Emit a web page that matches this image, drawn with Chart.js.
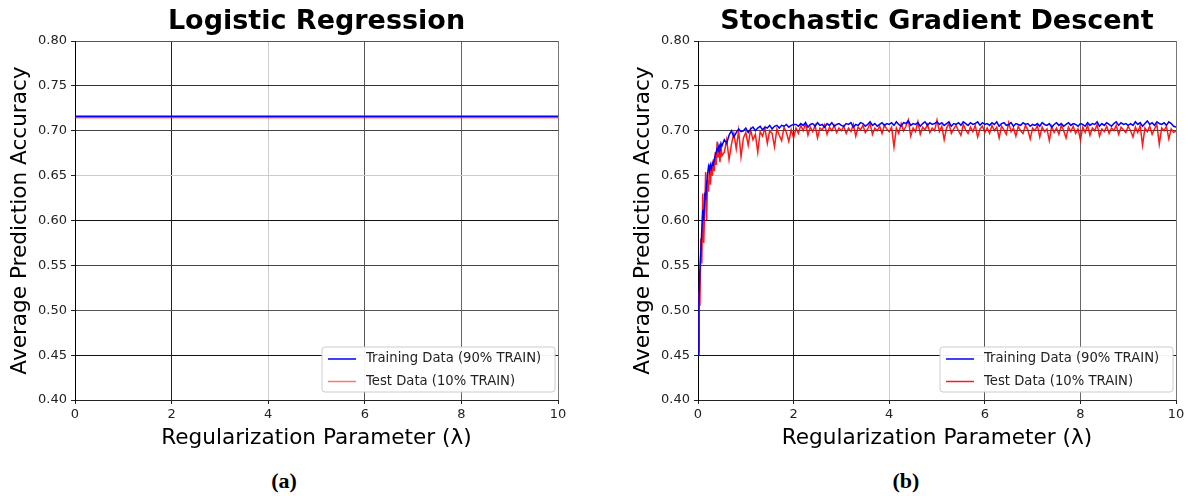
<!DOCTYPE html>
<html>
<head>
<meta charset="utf-8">
<script src="https://cdn.jsdelivr.net/npm/chart.js@4.4.1/dist/chart.umd.min.js"></script>
<style>
  html, body { margin: 0; padding: 0; background: #fff; }
  body { width: 1196px; height: 496px; position: relative; overflow: hidden; }
  .wrap { position: absolute; top: 0; width: 598px; height: 460px; }
  .cap { position: absolute; top: 468px; width: 80px; text-align: center;
         font-family: "Liberation Serif", "Times New Roman", serif; font-weight: bold; font-size: 22px; color: #000; }
</style>
</head>
<body>
<div class="wrap" style="left:0"><canvas id="lr" width="598" height="460"></canvas></div>
<div class="wrap" style="left:598px"><canvas id="sgd" width="598" height="460"></canvas></div>
<div class="cap" style="left:244px">(a)</div>
<div class="cap" style="left:866px">(b)</div>
<script>
// ---------------- data ----------------
const titles = ['Logistic Regression', 'Stochastic Gradient Descent'];
const xAxisTitle = 'Regularization Parameter (\u03bb)';
const yAxisTitle = 'Average Prediction Accuracy';
const seriesLabels = ['Training Data (90% TRAIN)', 'Test Data (10% TRAIN)'];
const xTickValues = [0, 2, 4, 6, 8, 10];
const yTickValues = [0.40, 0.45, 0.50, 0.55, 0.60, 0.65, 0.70, 0.75, 0.80];

// Logistic regression: flat accuracy across lambda
const lrLambda = [0, 2, 4, 6, 8, 10];
const lrTrain  = [0.716, 0.716, 0.716, 0.716, 0.716, 0.716];
const lrTest   = [0.7145, 0.7145, 0.7145, 0.7145, 0.7145, 0.7145];

// Stochastic gradient descent
const sgdLambda = [
  0, 0.02, 0.04, 0.06, 0.08, 0.1, 0.12, 0.14, 0.16, 0.18, 0.2, 0.22, 0.24, 0.26, 0.28, 0.3, 0.32, 0.34, 0.36, 0.38, 0.4, 0.42, 0.44, 0.46, 0.48, 0.5,
  0.55, 0.6, 0.65, 0.7, 0.75, 0.8, 0.85, 0.9, 0.95, 1, 1.05, 1.1, 1.15, 1.2, 1.25, 1.3, 1.35, 1.4, 1.45, 1.5, 1.55, 1.6, 1.65, 1.7, 1.75, 1.8, 1.85, 1.9, 1.95, 2,
  2.05, 2.1, 2.15, 2.2, 2.25, 2.3, 2.35, 2.4, 2.45, 2.5, 2.55, 2.6, 2.65, 2.7, 2.75, 2.8, 2.85, 2.9, 2.95, 3,
  3.05, 3.1, 3.15, 3.2, 3.25, 3.3, 3.35, 3.4, 3.45, 3.5, 3.55, 3.6, 3.65, 3.7, 3.75, 3.8, 3.85, 3.9, 3.95, 4,
  4.05, 4.1, 4.15, 4.2, 4.25, 4.3, 4.35, 4.4, 4.45, 4.5, 4.55, 4.6, 4.65, 4.7, 4.75, 4.8, 4.85, 4.9, 4.95, 5,
  5.05, 5.1, 5.15, 5.2, 5.25, 5.3, 5.35, 5.4, 5.45, 5.5, 5.55, 5.6, 5.65, 5.7, 5.75, 5.8, 5.85, 5.9, 5.95, 6,
  6.05, 6.1, 6.15, 6.2, 6.25, 6.3, 6.35, 6.4, 6.45, 6.5, 6.55, 6.6, 6.65, 6.7, 6.75, 6.8, 6.85, 6.9, 6.95, 7,
  7.05, 7.1, 7.15, 7.2, 7.25, 7.3, 7.35, 7.4, 7.45, 7.5, 7.55, 7.6, 7.65, 7.7, 7.75, 7.8, 7.85, 7.9, 7.95, 8,
  8.05, 8.1, 8.15, 8.2, 8.25, 8.3, 8.35, 8.4, 8.45, 8.5, 8.55, 8.6, 8.65, 8.7, 8.75, 8.8, 8.85, 8.9, 8.95, 9,
  9.05, 9.1, 9.15, 9.2, 9.25, 9.3, 9.35, 9.4, 9.45, 9.5, 9.55, 9.6, 9.65, 9.7, 9.75, 9.8, 9.85, 9.9, 9.95, 10
];
const sgdTrain = [
  0.450, 0.510, 0.545, 0.567, 0.590, 0.612, 0.600, 0.628, 0.625, 0.640, 0.652, 0.660, 0.655, 0.662, 0.658, 0.664, 0.662, 0.668, 0.672, 0.676, 0.680, 0.678, 0.684, 0.681, 0.686, 0.683,
  0.690, 0.686, 0.695, 0.700, 0.693, 0.698, 0.702, 0.699, 0.700, 0.703, 0.698, 0.702, 0.704, 0.700, 0.703, 0.705, 0.701, 0.704, 0.703, 0.706, 0.702, 0.705, 0.706, 0.703, 0.706, 0.705, 0.707, 0.704, 0.706, 0.707,
  0.707, 0.705, 0.708, 0.706, 0.709, 0.704, 0.707, 0.708, 0.705, 0.709, 0.706, 0.707, 0.704, 0.708, 0.706, 0.709, 0.705, 0.707, 0.708, 0.706,
  0.705, 0.708, 0.707, 0.709, 0.704, 0.707, 0.706, 0.709, 0.708, 0.705, 0.707, 0.710, 0.706, 0.708, 0.705, 0.707, 0.709, 0.706, 0.708, 0.707,
  0.709, 0.706, 0.710, 0.707, 0.705, 0.709, 0.708, 0.711, 0.706, 0.708, 0.707, 0.709, 0.705, 0.708, 0.710, 0.706, 0.709, 0.707, 0.708, 0.710,
  0.707, 0.709, 0.706, 0.708, 0.710, 0.705, 0.708, 0.707, 0.709, 0.706, 0.710, 0.708, 0.706, 0.709, 0.707, 0.708, 0.710, 0.706, 0.709, 0.707,
  0.708, 0.706, 0.709, 0.707, 0.710, 0.705, 0.708, 0.709, 0.706, 0.707, 0.709, 0.705, 0.708, 0.707, 0.706, 0.709, 0.707, 0.708, 0.705, 0.707,
  0.706, 0.708, 0.705, 0.709, 0.707, 0.706, 0.708, 0.704, 0.707, 0.709, 0.706, 0.708, 0.705, 0.707, 0.709, 0.706, 0.708, 0.707, 0.705, 0.708,
  0.707, 0.705, 0.709, 0.706, 0.708, 0.707, 0.710, 0.705, 0.708, 0.706, 0.709, 0.707, 0.705, 0.708, 0.710, 0.706, 0.709, 0.707, 0.708, 0.706,
  0.708, 0.706, 0.710, 0.707, 0.709, 0.705, 0.708, 0.711, 0.707, 0.709, 0.706, 0.710, 0.708, 0.707, 0.709, 0.706, 0.710, 0.708, 0.705, 0.704
];
const sgdTest = [
  0.455, 0.520, 0.505, 0.580, 0.552, 0.630, 0.575, 0.612, 0.654, 0.600, 0.645, 0.632, 0.662, 0.640, 0.660, 0.650, 0.668, 0.655, 0.676, 0.662, 0.688, 0.670, 0.679, 0.665, 0.684, 0.672,
  0.676, 0.690, 0.668, 0.685, 0.697, 0.680, 0.700, 0.671, 0.692, 0.698, 0.684, 0.701, 0.690, 0.696, 0.676, 0.699, 0.694, 0.703, 0.686, 0.700, 0.697, 0.682, 0.702, 0.695, 0.689, 0.704, 0.698, 0.688, 0.701, 0.692,
  0.703, 0.697, 0.706, 0.700, 0.708, 0.695, 0.704, 0.699, 0.706, 0.692, 0.703, 0.701, 0.707, 0.696, 0.704, 0.700, 0.706, 0.698, 0.703, 0.700,
  0.705, 0.697, 0.703, 0.699, 0.707, 0.694, 0.704, 0.701, 0.706, 0.698, 0.702, 0.708, 0.696, 0.703, 0.700, 0.705, 0.697, 0.706, 0.702, 0.699,
  0.704, 0.682, 0.703, 0.697, 0.708, 0.700, 0.705, 0.712, 0.694, 0.703, 0.699, 0.710, 0.696, 0.704, 0.701, 0.707, 0.698, 0.703, 0.700, 0.712,
  0.699, 0.705, 0.690, 0.703, 0.708, 0.697, 0.702, 0.706, 0.700, 0.695, 0.707, 0.701, 0.697, 0.704, 0.699, 0.706, 0.693, 0.702, 0.705, 0.698,
  0.703, 0.697, 0.706, 0.700, 0.704, 0.692, 0.705, 0.701, 0.696, 0.709, 0.699, 0.703, 0.694, 0.705, 0.700, 0.697, 0.706, 0.701, 0.691, 0.703,
  0.700, 0.706, 0.693, 0.704, 0.699, 0.702, 0.689, 0.705, 0.698, 0.703, 0.696, 0.706, 0.700, 0.692, 0.704, 0.699, 0.705, 0.697, 0.702, 0.690,
  0.704, 0.698, 0.706, 0.695, 0.703, 0.700, 0.707, 0.694, 0.702, 0.699, 0.705, 0.697, 0.703, 0.700, 0.706, 0.696, 0.704, 0.701, 0.698, 0.705,
  0.700, 0.693, 0.704, 0.698, 0.706, 0.684, 0.703, 0.699, 0.705, 0.696, 0.702, 0.707, 0.685, 0.703, 0.700, 0.705, 0.691, 0.702, 0.698, 0.700
];

// ---------------- styles ----------------
const FONT = '"DejaVu Sans", "Liberation Sans", sans-serif';
const xGridColors = ['#000000', '#222222', '#cccccc', '#555555', '#666666', '#777777'];
const yGridColors = ['#333333', '#111111', '#555555', '#444444', '#111111', '#cccccc', '#444444', '#333333', '#555555'];

function pts(xs, ys) { return xs.map((x, i) => ({ x: x, y: ys[i] })); }

const boxLegend = {
  id: 'boxLegend',
  afterDatasetsDraw(chart) {
    const ctx = chart.ctx, a = chart.chartArea;
    const w = 233, h = 45;
    const x0 = a.right - 3 - w, y0 = a.bottom - 8 - h;
    ctx.save();
    ctx.beginPath();
    const r = 3;
    ctx.moveTo(x0 + r, y0);
    ctx.arcTo(x0 + w, y0, x0 + w, y0 + h, r);
    ctx.arcTo(x0 + w, y0 + h, x0, y0 + h, r);
    ctx.arcTo(x0, y0 + h, x0, y0, r);
    ctx.arcTo(x0, y0, x0 + w, y0, r);
    ctx.closePath();
    ctx.fillStyle = 'rgba(255,255,255,0.95)';
    ctx.fill();
    ctx.strokeStyle = '#cccccc';
    ctx.lineWidth = 1;
    ctx.stroke();
    ctx.font = '13.2px ' + FONT;
    ctx.textBaseline = 'middle';
    ctx.textAlign = 'left';
    chart.data.datasets.forEach((ds, i) => {
      const yy = y0 + 12 + i * 22.5;
      ctx.beginPath();
      ctx.moveTo(x0 + 6, yy);
      ctx.lineTo(x0 + 34, yy);
      ctx.strokeStyle = ds.borderColor;
      ctx.lineWidth = 1.5;
      ctx.stroke();
      ctx.fillStyle = '#222';
      ctx.fillText(ds.label, x0 + 44, yy);
    });
    ctx.restore();
  }
};

function makeChart(id, title, xs, train, test, padLeft, padRight, lw, redColor) {
  return new Chart(document.getElementById(id), {
    type: 'line',
    data: {
      datasets: [
        { label: seriesLabels[0], data: pts(xs, train), borderColor: 'rgb(0,0,255)', borderWidth: lw, pointRadius: 0, tension: 0, fill: false },
        { label: seriesLabels[1], data: pts(xs, test), borderColor: redColor, borderWidth: lw, pointRadius: 0, tension: 0, fill: false }
      ]
    },
    options: {
      responsive: false,
      animation: false,
      events: [],
      layout: { padding: { left: padLeft, right: padRight, top: 0, bottom: 0 } },
      plugins: {
        legend: { display: false },
        tooltip: { enabled: false },
        title: {
          display: true, text: title, fullSize: false, color: '#000',
          font: { family: FONT, size: 27, weight: 'bold' },
          padding: { top: 6, bottom: 2.6 }
        }
      },
      scales: {
        x: {
          type: 'linear', min: 0, max: 10,
          afterBuildTicks: (s) => { s.ticks = xTickValues.map(v => ({ value: v })); },
          afterFit: (s) => { s.height = 60; s.paddingLeft = 0; s.paddingRight = 0; },
          ticks: { font: { family: FONT, size: 13 }, color: '#222', padding: 3, maxRotation: 0,
                   callback: (v) => String(v) },
          grid: { color: (c) => xGridColors[c.index] || '#555', lineWidth: 1, tickLength: 4, tickColor: '#222' },
          border: { color: '#222', width: 1 },
          title: { display: true, text: xAxisTitle, color: '#000', font: { family: FONT, size: 21.6 }, padding: { top: 9, bottom: 9 } }
        },
        y: {
          type: 'linear', min: 0.4, max: 0.8,
          afterBuildTicks: (s) => { s.ticks = yTickValues.map(v => ({ value: v })); },
          afterFit: (s) => { s.width = 72; s.paddingTop = 0; s.paddingBottom = 0; },
          ticks: { font: { family: FONT, size: 13 }, color: '#222', padding: 4,
                   callback: (v) => Number(v).toFixed(2) },
          grid: { color: (c) => yGridColors[c.index] || '#555', lineWidth: 1, tickLength: 4, tickColor: '#222' },
          border: { color: '#000', width: 1 },
          title: { display: true, text: yAxisTitle, color: '#000', font: { family: FONT, size: 21.6 }, padding: { top: 4, bottom: 4 } }
        }
      }
    },
    plugins: [boxLegend]
  });
}

makeChart('lr', titles[0], lrLambda, lrTrain, lrTest, 3, 40, 1.6, 'rgba(255,0,0,0.55)');
makeChart('sgd', titles[1], sgdLambda, sgdTrain, sgdTest, 28, 20, 1.5, 'rgba(255,0,0,0.9)');
</script>
</body>
</html>
